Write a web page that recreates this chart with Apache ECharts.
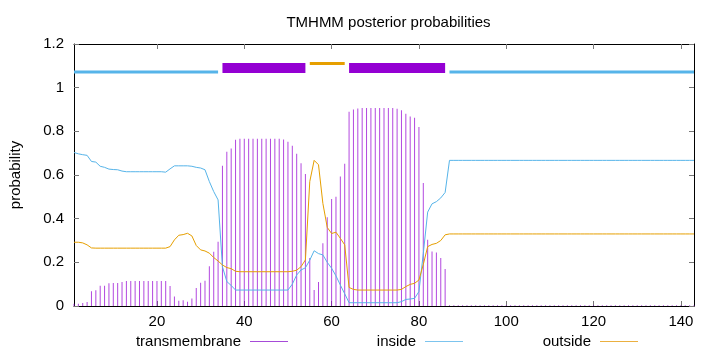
<!DOCTYPE html>
<html>
<head>
<meta charset="utf-8">
<script src="https://cdn.jsdelivr.net/npm/echarts@6/dist/echarts.min.js"></script>
<style>
  html, body { margin: 0; padding: 0; background: #fff; }
  #chart { width: 720px; height: 352px; }
</style>
</head>
<body>
<div id="chart"></div>
<script>
// posterior probabilities per residue (1..143)
const tmProb = [
  0.01, 0.01, 0.014, 0.018, 0.067, 0.072, 0.093, 0.093, 0.104, 0.105,
  0.105, 0.11, 0.115, 0.115, 0.115, 0.115, 0.115, 0.115, 0.115, 0.115,
  0.115, 0.115, 0.092, 0.044, 0.024, 0.026, 0.02, 0.034, 0.083, 0.107,
  0.116, 0.182, 0.248, 0.294, 0.642, 0.706, 0.721, 0.762, 0.766, 0.766,
  0.766, 0.766, 0.766, 0.766, 0.766, 0.766, 0.766, 0.766, 0.763, 0.752,
  0.734, 0.697, 0.654, 0.605, 0.22, 0.073, 0.11, 0.287, 0.407, 0.49,
  0.5, 0.593, 0.651, 0.89, 0.9, 0.905, 0.907, 0.907, 0.907, 0.907,
  0.907, 0.907, 0.907, 0.907, 0.904, 0.896, 0.88, 0.868, 0.862, 0.82,
  0.563, 0.303, 0.25, 0.245, 0.22, 0.17, 0.003, 0.003, 0.003, 0.003,
  0.003, 0.003, 0.003, 0.003, 0.003, 0.003, 0.003, 0.003, 0.003, 0.003,
  0.003, 0.003, 0.003, 0.003, 0.003, 0.003, 0.003, 0.003, 0.003, 0.003,
  0.003, 0.003, 0.003, 0.003, 0.003, 0.003, 0.003, 0.003, 0.003, 0.003,
  0.003, 0.003, 0.003, 0.003, 0.003, 0.003, 0.003, 0.003, 0.003, 0.003,
  0.003, 0.003, 0.003, 0.003, 0.003, 0.003, 0.003, 0.003, 0.003, 0.003,
  0.003, 0.003, 0.003
];
const insideProb = [
  0.703, 0.697, 0.693, 0.69, 0.662, 0.659, 0.64, 0.635, 0.627, 0.625,
  0.624, 0.618, 0.615, 0.615, 0.615, 0.615, 0.615, 0.615, 0.615, 0.615,
  0.615, 0.613, 0.628, 0.642, 0.642, 0.642, 0.642, 0.64, 0.635, 0.632,
  0.624, 0.57, 0.524, 0.486, 0.18, 0.112, 0.094, 0.073, 0.073, 0.073,
  0.073, 0.073, 0.073, 0.073, 0.073, 0.073, 0.073, 0.073, 0.073, 0.073,
  0.1, 0.142, 0.165, 0.175, 0.21, 0.253, 0.24, 0.234, 0.2, 0.173,
  0.138, 0.096, 0.056, 0.015, 0.015, 0.015, 0.015, 0.015, 0.015, 0.015,
  0.015, 0.015, 0.015, 0.015, 0.015, 0.02, 0.03, 0.032, 0.035, 0.066,
  0.24, 0.43, 0.468, 0.478, 0.495, 0.52, 0.667, 0.667, 0.667, 0.667,
  0.667, 0.667, 0.667, 0.667, 0.667, 0.667, 0.667, 0.667, 0.667, 0.667,
  0.667, 0.667, 0.667, 0.667, 0.667, 0.667, 0.667, 0.667, 0.667, 0.667,
  0.667, 0.667, 0.667, 0.667, 0.667, 0.667, 0.667, 0.667, 0.667, 0.667,
  0.667, 0.667, 0.667, 0.667, 0.667, 0.667, 0.667, 0.667, 0.667, 0.667,
  0.667, 0.667, 0.667, 0.667, 0.667, 0.667, 0.667, 0.667, 0.667, 0.667,
  0.667, 0.667, 0.667
];
const outsideProb = [
  0.292, 0.292, 0.289, 0.28, 0.266, 0.265, 0.265, 0.265, 0.265, 0.265,
  0.265, 0.265, 0.265, 0.265, 0.265, 0.265, 0.265, 0.265, 0.265, 0.265,
  0.265, 0.265, 0.272, 0.303, 0.324, 0.327, 0.333, 0.321, 0.277, 0.257,
  0.252, 0.242, 0.222, 0.206, 0.188, 0.176, 0.171, 0.159, 0.157, 0.157,
  0.157, 0.157, 0.157, 0.157, 0.157, 0.157, 0.157, 0.157, 0.157, 0.157,
  0.159, 0.164, 0.18, 0.211, 0.57, 0.667, 0.647, 0.47, 0.36, 0.332,
  0.338, 0.31, 0.28, 0.085, 0.076, 0.073, 0.073, 0.073, 0.073, 0.073,
  0.073, 0.073, 0.073, 0.073, 0.073, 0.076, 0.089, 0.099, 0.104, 0.119,
  0.19, 0.272, 0.282, 0.287, 0.3, 0.326, 0.33, 0.33, 0.33, 0.33,
  0.33, 0.33, 0.33, 0.33, 0.33, 0.33, 0.33, 0.33, 0.33, 0.33,
  0.33, 0.33, 0.33, 0.33, 0.33, 0.33, 0.33, 0.33, 0.33, 0.33,
  0.33, 0.33, 0.33, 0.33, 0.33, 0.33, 0.33, 0.33, 0.33, 0.33,
  0.33, 0.33, 0.33, 0.33, 0.33, 0.33, 0.33, 0.33, 0.33, 0.33,
  0.33, 0.33, 0.33, 0.33, 0.33, 0.33, 0.33, 0.33, 0.33, 0.33,
  0.33, 0.33, 0.33
];

// predicted topology (segments shown above the curves)
const segFrom = [1, 35, 55, 64, 87];
const segTo = [34, 54, 63, 86, 143];
const segType = ['inside', 'TMhelix', 'outside', 'TMhelix', 'inside'];

const xTicks = [20, 40, 60, 80, 100, 120, 140];
const legendNames = ['transmembrane', 'inside', 'outside'];

const residues = tmProb.map((v, i) => i + 1);

const FONT = '"Liberation Sans", Arial, sans-serif';
const PURPLE = '#9400D3';
const BLUE = '#56B4E9';
const ORANGE = '#E69F00';
const legendColors = ['#a64bd8', '#7cc4ee', '#ebb040'];

function pairs(vals) {
  return vals.map((v, i) => [residues[i], v]);
}

const segStyle = {
  inside: { y: 1.072, width: 3, color: BLUE },
  TMhelix: { y: 1.09, width: 10, color: PURPLE },
  outside: { y: 1.111, width: 3, color: ORANGE }
};

const topSeries = segFrom.map((s, k) => {
  const st = segStyle[segType[k]];
  return {
    type: 'line',
    name: 'seg' + k,
    silent: true,
    symbol: 'none',
    data: [[s, st.y], [segTo[k], st.y]],
    lineStyle: { color: st.color, width: st.width, cap: 'butt' },
    z: 3
  };
});

const chart = echarts.init(document.getElementById('chart'));

const xAxisBase = {
  type: 'value',
  min: 1,
  max: 143,
  splitLine: { show: false },
  axisLine: { show: true, onZero: false, lineStyle: { color: '#000', width: 1 } },
  axisTick: { show: true, inside: true, length: 5, customValues: xTicks, lineStyle: { color: '#777' } }
};
const yAxisBase = {
  type: 'value',
  min: 0,
  max: 1.2,
  interval: 0.2,
  splitLine: { show: false },
  axisLine: { show: true, onZero: false, lineStyle: { color: '#000', width: 1 } },
  axisTick: { show: true, inside: true, length: 5, lineStyle: { color: '#777' } }
};

const option = {
  animation: false,
  backgroundColor: '#fff',
  title: {
    text: 'TMHMM posterior probabilities',
    left: 383.5,
    top: 10,
    textAlign: 'center',
    textStyle: { fontFamily: FONT, fontSize: 15, fontWeight: 'normal', color: '#000' }
  },
  grid: { left: 73, right: 26, top: 44, bottom: 46 },
  legend: legendNames.map((n, k) => ({
    data: [n],
    right: [427, 252, 77][k],
    top: 329,
    align: 'right',
    icon: 'rect',
    itemWidth: 38,
    itemHeight: 1,
    selectedMode: false,
    itemStyle: { color: legendColors[k], borderWidth: 0 },
    lineStyle: { color: legendColors[k], width: 1 },
    textStyle: { fontFamily: FONT, fontSize: 15, color: '#000', padding: [0, 4, 0, 0] }
  })),
  xAxis: [
    Object.assign({}, xAxisBase, {
      position: 'bottom',
      axisLabel: { customValues: xTicks, margin: 8, fontFamily: FONT, fontSize: 15, color: '#000' }
    }),
    Object.assign({}, xAxisBase, {
      position: 'top',
      axisLabel: { show: false }
    })
  ],
  yAxis: [
    Object.assign({}, yAxisBase, {
      position: 'left',
      name: 'probability',
      nameLocation: 'middle',
      nameGap: 51,
      nameTextStyle: { fontFamily: FONT, fontSize: 15, color: '#000' },
      axisLabel: { margin: 10, fontFamily: FONT, fontSize: 15, color: '#000' }
    }),
    Object.assign({}, yAxisBase, {
      position: 'right',
      axisLabel: { show: false }
    })
  ],
  series: [
    {
      type: 'bar',
      name: 'transmembrane',
      data: pairs(tmProb),
      barWidth: 1,
      silent: true,
      itemStyle: { color: 'rgba(148, 0, 211, 0.72)' }
    },
    {
      type: 'line',
      name: 'inside',
      data: pairs(insideProb),
      symbol: 'none',
      silent: true,
      lineStyle: { color: BLUE, width: 1 },
      itemStyle: { color: BLUE }
    },
    {
      type: 'line',
      name: 'outside',
      data: pairs(outsideProb),
      symbol: 'none',
      silent: true,
      lineStyle: { color: ORANGE, width: 1 },
      itemStyle: { color: ORANGE }
    }
  ].concat(topSeries)
};

chart.setOption(option);
</script>
</body>
</html>
